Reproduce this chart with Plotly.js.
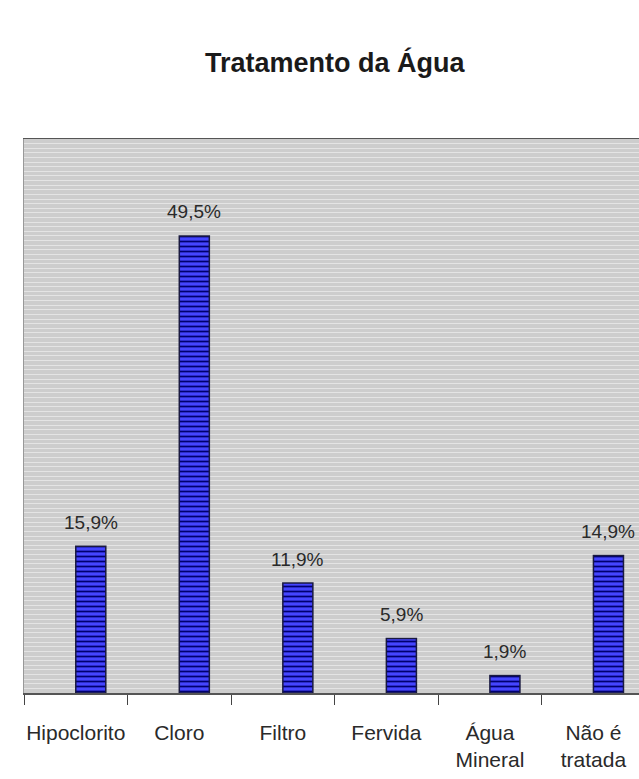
<!DOCTYPE html>
<html>
<head>
<meta charset="utf-8">
<script src="https://cdn.plot.ly/plotly-3.0.1.min.js"></script>
<style>html,body{margin:0;padding:0;background:#fff;}#chart{width:639px;height:779px;}</style>
</head>
<body>
<div id="chart"></div>
<script>
const categories = ["Hipoclorito", "Cloro", "Filtro", "Fervida", "Água<br>Mineral", "Não é<br>tratada"];
const values = [15.9, 49.5, 11.9, 5.9, 1.9, 14.9];
const valueLabels = ["15,9%", "49,5%", "11,9%", "5,9%", "1,9%", "14,9%"];
const chartTitle = "Tratamento da Água";

const FONT = "'Liberation Sans', Arial, sans-serif";
const barWidth = 0.29;

const trace = {
  type: "bar",
  x: categories,
  y: values,
  width: barWidth,
  offset: 0,
  marker: {
    color: "#3b3bf5",
    line: {color: "#1a1a40", width: 1.5},
    pattern: {shape: "-", fgcolor: "#000070", bgcolor: "#4545ff", size: 5, solidity: 0.35}
  },
  hoverinfo: "none"
};

const annotations = values.map((v, i) => ({
  x: i + barWidth / 2,
  y: v,
  xref: "x",
  yref: "y",
  text: valueLabels[i],
  showarrow: false,
  yanchor: "middle",
  yshift: 24,
  font: {family: FONT, size: 19, color: "#2a2a2a"}
}));

const layout = {
  width: 639,
  height: 779,
  margin: {l: 24, r: 0, t: 139, b: 86},
  paper_bgcolor: "#ffffff",
  plot_bgcolor: "#cdcdcd",
  showlegend: false,
  title: {
    text: chartTitle,
    font: {family: FONT, size: 27, color: "#1a1a1a", weight: "bold"},
    xref: "container", yref: "container",
    x: 0.524, xanchor: "center",
    y: 1 - 63 / 779, yanchor: "middle"
  },
  xaxis: {
    type: "category",
    range: [-0.5, 5.44],
    tickson: "boundaries",
    tickangle: 0,
    ticks: "outside",
    ticklen: 10,
    tickcolor: "#444",
    tickwidth: 1,
    ticklabelstandoff: 20,
    showline: true,
    linecolor: "#555",
    linewidth: 1.5,
    mirror: true,
    showgrid: false,
    tickfont: {family: FONT, size: 21, color: "#2a2a2a"}
  },
  yaxis: {
    range: [0, 60],
    dtick: 0.5,
    showticklabels: false,
    showgrid: true,
    gridcolor: "#e4e4e4",
    gridwidth: 1,
    zeroline: false,
    showline: true,
    linecolor: "#999",
    ticks: ""
  },
  annotations: annotations,
  bargap: 0
};

Plotly.newPlot("chart", [trace], layout, {displayModeBar: false, staticPlot: true});
</script>
</body>
</html>
